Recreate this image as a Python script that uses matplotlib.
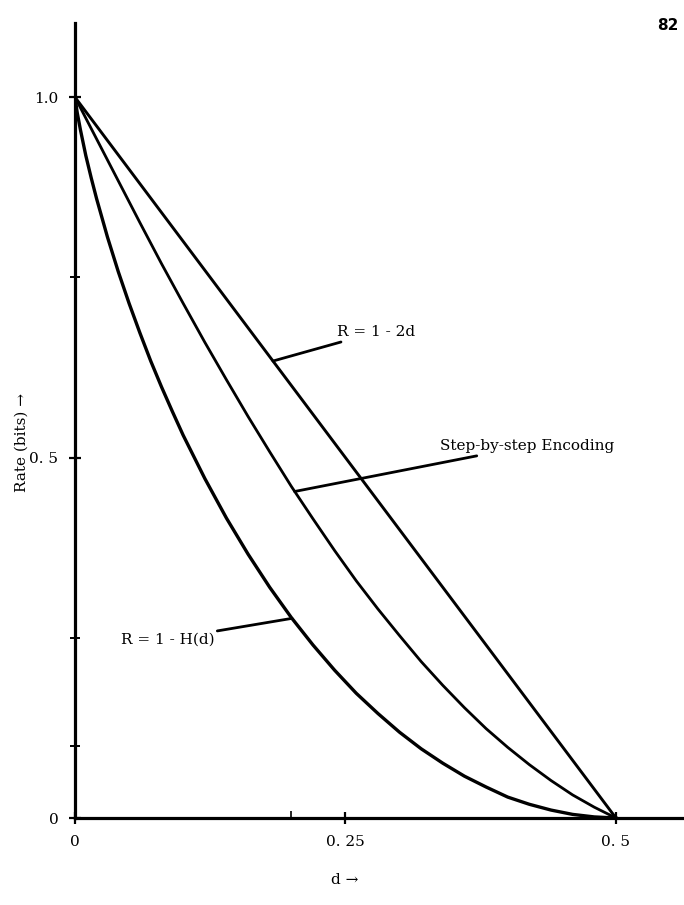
import numpy as np
import matplotlib
matplotlib.use('Agg')
import matplotlib.pyplot as plt

plt.rcParams['font.family'] = ['DejaVu Serif']

# values
d_line = [0.0, 0.5]
r_line = [1.0, 0.0]

d_step = [0.0, 0.02, 0.04, 0.06, 0.08, 0.10, 0.12, 0.14, 0.16, 0.18, 0.20, 0.22, 0.24,
          0.26, 0.28, 0.30, 0.32, 0.34, 0.36, 0.38, 0.40, 0.42, 0.44, 0.46, 0.48, 0.50]
r_step = [1.0, 0.942, 0.884, 0.826, 0.769, 0.714, 0.66, 0.608, 0.557, 0.508, 0.46, 0.415,
          0.371, 0.329, 0.29, 0.253, 0.217, 0.184, 0.153, 0.124, 0.098, 0.074, 0.052,
          0.032, 0.015, 0.0]

d_h = [0.0, 0.002, 0.005, 0.01, 0.015, 0.02, 0.03, 0.04, 0.05, 0.06, 0.07, 0.08, 0.09,
       0.10, 0.12, 0.14, 0.16, 0.18, 0.20, 0.22, 0.24, 0.26, 0.28, 0.30, 0.32, 0.34,
       0.36, 0.38, 0.40, 0.42, 0.44, 0.46, 0.48, 0.50]
r_h = [1.0, 0.979, 0.955, 0.919, 0.888, 0.859, 0.806, 0.758, 0.714, 0.673, 0.634, 0.598,
       0.564, 0.531, 0.471, 0.416, 0.366, 0.320, 0.278, 0.240, 0.205, 0.173, 0.145, 0.119,
       0.096, 0.076, 0.058, 0.043, 0.029, 0.019, 0.011, 0.005, 0.0015, 0.0]

x_ticks = [0.0, 0.25, 0.5]
x_labels = ['0', '0. 25', '0. 5']
y_ticks = [0.0, 0.5, 1.0]
y_labels = ['0', '0. 5', '1.0']

fig = plt.figure(figsize=(6.84, 9.05), dpi=100)
ax = fig.add_axes([75/684, 87/905, 608/684, 795/905])

ax.plot(d_line, r_line, color='black', lw=2.1, solid_capstyle='butt')
ax.plot(d_step, r_step, color='black', lw=2.0, solid_joinstyle='round')
ax.plot(d_h, r_h, color='black', lw=2.4, solid_joinstyle='round')

ax.set_xlim(0, 0.562)
ax.set_ylim(0, 1.103)

for s in ['top', 'right']:
    ax.spines[s].set_visible(False)
for s in ['left', 'bottom']:
    ax.spines[s].set_linewidth(2.3)

ax.set_xticks(x_ticks)
ax.set_xticklabels(x_labels)
ax.set_yticks(y_ticks)
ax.set_yticklabels(y_labels)
ax.set_xticks([0.2], minor=True)
ax.set_yticks([0.1, 0.25, 0.75], minor=True)
ax.tick_params(axis='both', which='major', direction='inout', length=8, width=1.6,
               labelsize=11, pad=8)
ax.tick_params(axis='y', which='minor', direction='inout', length=7, width=1.4)
ax.tick_params(axis='x', which='minor', direction='in', length=5, width=1.2)

leader = dict(arrowstyle='-', color='black', lw=2.0, shrinkA=0, shrinkB=0)
ax.annotate('R = 1 - 2d', xy=(0.183, 0.634), xytext=(0.242, 0.674),
            ha='left', va='center', fontsize=11, arrowprops=leader)
ax.annotate('Step-by-step Encoding', xy=(0.203, 0.453), xytext=(0.337, 0.516),
            ha='left', va='center', fontsize=11, arrowprops=leader)
ax.annotate('R = 1 - H(d)', xy=(0.2006, 0.277), xytext=(0.129, 0.248),
            ha='right', va='center', fontsize=11, arrowprops=leader)

fig.text(22/684, 1 - 443/905, 'Rate (bits) \u2192', rotation=90, ha='center', va='center',
         fontsize=11)
fig.text(345/684, 1 - 880/905, 'd \u2192', ha='center', va='center', fontsize=11)
fig.text(668/684, 1 - 25/905, '82', ha='center', va='center', fontsize=11,
         family='DejaVu Sans', fontweight='bold')

fig.savefig('out.png', dpi=100)
